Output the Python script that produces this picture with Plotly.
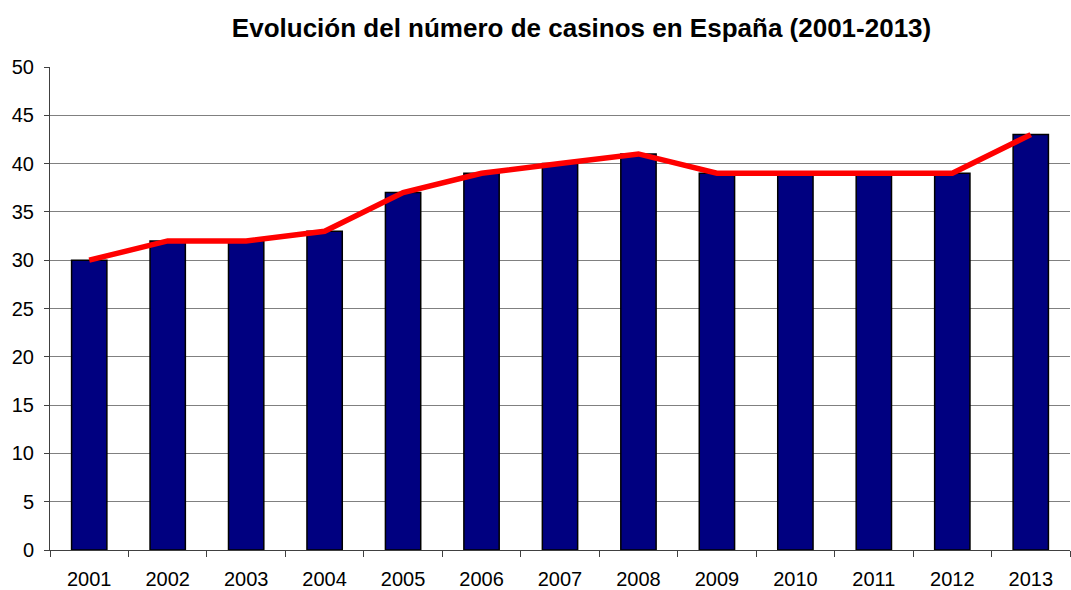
import plotly.graph_objects as go

years = ["2001", "2002", "2003", "2004", "2005", "2006", "2007", "2008", "2009", "2010", "2011", "2012", "2013"]
casinos = [30, 32, 32, 33, 37, 39, 40, 41, 39, 39, 39, 39, 43]
y_ticks = [0, 5, 10, 15, 20, 25, 30, 35, 40, 45, 50]

fig = go.Figure()
fig.add_trace(go.Bar(
    x=years, y=casinos, width=0.45,
    marker=dict(color="#000080", line=dict(color="#000000", width=1.5)),
    showlegend=False, hoverinfo="x+y",
))
fig.add_trace(go.Scatter(
    x=years, y=casinos, mode="lines",
    line=dict(color="#FF0000", width=5.5),
    showlegend=False,
))

fig.update_layout(
    width=1071, height=590,
    margin=dict(l=50, r=1, t=67, b=40),
    paper_bgcolor="white", plot_bgcolor="white",
    font=dict(family="Liberation Sans, Arial, sans-serif", size=20, color="black"),
    title=dict(text="<b>Evolución del número de casinos en España (2001-2013)</b>",
               x=0.543, xanchor="center", y=0.953, yanchor="middle",
               font=dict(size=26, color="black")),
    xaxis=dict(
        type="category", showgrid=False, showline=True, linecolor="#404040", linewidth=1,
        ticks="outside", tickson="boundaries", ticklen=6, tickcolor="#404040",
        range=[-0.5, 12.5], fixedrange=True, ticklabelstandoff=11,
    ),
    yaxis=dict(
        range=[0, 50], tickvals=y_ticks, showgrid=True, gridcolor="#808080", gridwidth=1,
        showline=True, linecolor="#404040", linewidth=1,
        ticks="outside", ticklen=5, tickcolor="#404040", zeroline=False,
        ticklabelstandoff=6, fixedrange=True,
    ),
)

fig.write_html("out.html", config={"displayModeBar": False},
               post_script="document.body.style.margin='0';document.body.style.overflow='hidden';")
